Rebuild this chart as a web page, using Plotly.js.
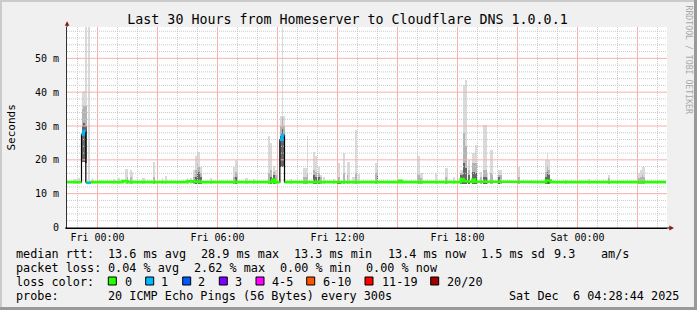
<!DOCTYPE html>
<html><head><meta charset="utf-8">
<script src="https://cdn.plot.ly/plotly-3.0.1.min.js"></script>
<style>html,body{margin:0;padding:0;background:#f0f0f0;}#chart{width:697px;height:310px;}</style>
</head><body><div id="chart"></div>
<script>
// ---------- data ----------
const chartTitle = 'Last 30 Hours from Homeserver to Cloudflare DNS 1.0.0.1';
const yTitle = 'Seconds';
const timeStart = '2025-12-04 22:28:30';
const timeEnd = '2025-12-06 04:28:30';
const xTickVals = ['2025-12-05 00:00','2025-12-05 03:00','2025-12-05 06:00','2025-12-05 09:00','2025-12-05 12:00','2025-12-05 15:00','2025-12-05 18:00','2025-12-05 21:00','2025-12-06 00:00','2025-12-06 03:00'];
const xTickText = ['Fri 00:00','','Fri 06:00','','Fri 12:00','','Fri 18:00','','Sat 00:00',''];
const yTickVals = [0,10,20,30,40,50];
const yTickText = ['0','10 m','20 m','30 m','40 m','50 m'];

// smoke (ms) per 5-minute probe round: lowest ping, highest ping, upper band, dense core
const smokeTimes = ['2025-12-04 22:50','2025-12-04 22:55','2025-12-04 23:05','2025-12-04 23:15','2025-12-04 23:20','2025-12-04 23:25','2025-12-04 23:35','2025-12-04 23:45',
 '2025-12-05 00:50','2025-12-05 01:05','2025-12-05 01:25','2025-12-05 01:30','2025-12-05 01:40','2025-12-05 01:45','2025-12-05 02:15','2025-12-05 02:20','2025-12-05 02:50','2025-12-05 03:15','2025-12-05 03:25',
 '2025-12-05 04:30','2025-12-05 04:40','2025-12-05 04:50','2025-12-05 04:55','2025-12-05 05:00','2025-12-05 05:05','2025-12-05 05:10','2025-12-05 05:40',
 '2025-12-05 06:50','2025-12-05 06:55','2025-12-05 07:00','2025-12-05 07:25','2025-12-05 07:30','2025-12-05 07:50','2025-12-05 08:35','2025-12-05 08:40','2025-12-05 08:50','2025-12-05 08:55',
 '2025-12-05 09:10','2025-12-05 09:15','2025-12-05 09:20','2025-12-05 09:40','2025-12-05 10:20','2025-12-05 10:25','2025-12-05 10:30','2025-12-05 10:50','2025-12-05 10:55','2025-12-05 11:05','2025-12-05 11:10','2025-12-05 11:20','2025-12-05 11:50',
 '2025-12-05 12:05','2025-12-05 12:20','2025-12-05 12:30','2025-12-05 12:35','2025-12-05 12:45','2025-12-05 12:50','2025-12-05 12:55','2025-12-05 13:05','2025-12-05 13:55','2025-12-05 14:00',
 '2025-12-05 16:00','2025-12-05 16:05','2025-12-05 16:10','2025-12-05 16:15','2025-12-05 16:55','2025-12-05 17:25','2025-12-05 17:30','2025-12-05 17:50',
 '2025-12-05 18:10','2025-12-05 18:15','2025-12-05 18:20','2025-12-05 18:25','2025-12-05 18:35','2025-12-05 18:45','2025-12-05 18:50','2025-12-05 18:55','2025-12-05 19:10','2025-12-05 19:20','2025-12-05 19:25','2025-12-05 19:30','2025-12-05 19:40','2025-12-05 19:45',
 '2025-12-05 20:05','2025-12-05 20:10','2025-12-05 21:05','2025-12-05 22:25','2025-12-05 22:30','2025-12-05 22:35','2025-12-05 23:25',
 '2025-12-06 00:35','2025-12-06 01:35','2025-12-06 03:05','2025-12-06 03:10','2025-12-06 03:15','2025-12-06 03:20'];
const smokeMin = [13,13,13,19.5,19.5,19,13,13,
 13,13,13,13,13,13,13,13,13,13,13,
 13,13,13,13,13,13,13,13,
 13,13,13,13,13,13,13,13,13,13,
 18,18,18,13,13,13,13,13,13,13,13,13,13,
 13,13,13,13,13,13,13,13,13,13,
 13,13,13,13,13,13,13,13,
 13,13,13,13,13,13,13,13,13,13,13,13,13,13,
 13,13,13,13,13,13,13,
 13,13,13,13,13,13];
const smokeMax = [14.3,14.3,14.6,40.0,40.4,75,75,14.5,
 14.2,14.5,17.3,17.3,17.0,16.5,14.7,14.7,19.5,14.6,15.3,
 14.5,14.6,17,21,22.6,22.4,18,14.5,
 18,20,19.5,14.5,14.5,14.3,26.9,25,18.2,17,
 33,75,33,14.2,17.5,17.5,26.9,22.4,21,18,15.5,15,14.2,
 19,22,19.5,19.5,15,15,28.8,15.7,19,20.2,
 22.2,21,16,16,16,17.5,17.5,14.8,
 17,17,42,43.5,20,22,22,24.4,16.5,30.3,30.3,16,22.9,23,
 17,17,18,20,22,20,14,
 14.3,15.6,16,17,18,18];
const smokeMid = [null,null,null,35,36,36,null,null,
 null,null,null,15,15,null,null,null,15,null,null,
 null,null,15,17,19,18,16,null,
 15,16.5,16,null,null,null,16,17,16.5,15.5,
 30,32.7,30,null,15,15,16,17,16.5,16,15,null,null,
 15,16,15.5,null,null,null,16,null,16,17,
 16,15.5,14.5,null,null,14.8,null,null,
 16,16,28,24,17,19,19,19,15,17,17,14.5,16,15.5,
 15.5,15.5,15,16.5,18,17,null,
 null,14.5,14.5,15,15.5,15];
const smokeCore = [null,null,null,30,31,30,null,null,
 null,null,null,null,null,null,null,null,null,null,null,
 null,null,null,15,16,16.5,15,null,
 null,15,null,null,null,null,null,15,15.5,null,
 27,29,27,null,null,null,null,15.5,15,15,null,null,null,
 null,null,null,null,null,null,null,null,null,15.5,
 null,null,null,null,null,null,null,null,
 15.5,15.5,19,17.5,15.5,16.5,16.5,16,null,15,15,null,null,null,
 15,null,null,15,16.5,15.5,null,
 null,null,null,null,null,null];

// median RTT (ms) as a step function, with lost pings (of 20) per step
const medianTimes = ['2025-12-04 22:25','2025-12-04 22:50','2025-12-04 23:00','2025-12-04 23:12','2025-12-04 23:18','2025-12-04 23:25','2025-12-04 23:28','2025-12-04 23:38',
 '2025-12-05 01:15','2025-12-05 01:30','2025-12-05 04:30','2025-12-05 04:45','2025-12-05 05:10','2025-12-05 08:45','2025-12-05 08:52','2025-12-05 09:07','2025-12-05 09:14','2025-12-05 09:21',
 '2025-12-05 12:00','2025-12-05 12:10','2025-12-05 15:05','2025-12-05 15:12','2025-12-05 17:45','2025-12-05 18:00','2025-12-05 18:10','2025-12-05 18:18','2025-12-05 18:30','2025-12-05 18:45','2025-12-05 18:52','2025-12-05 19:00',
 '2025-12-05 22:25','2025-12-05 22:40','2025-12-06 04:25'];
const medianValues = [13.4,13.6,13.4,27.5,28.5,13.4,13.2,13.4,
 13.7,13.4,13.7,13.5,13.4,14.2,13.4,25.9,27.3,13.4,
 13.2,13.4,13.8,13.4,13.6,13.4,14.3,13.7,13.5,14.2,13.6,13.4,
 13.9,13.4,13.4];
const medianLoss = [0,0,0,1,1,0,1,0,
 0,0,0,0,0,0,0,1,1,0,
 0,0,0,0,0,0,0,0,0,0,0,0,
 0,0,0];

const lossLabels = ['0','1','2','3','4-5','6-10','11-19','20/20'];
const lossColors = ['#26ff00','#00b8ff','#0059ff','#7e00ff','#ff00ff','#ff5500','#ff0000','#a10000'];
const legendRtt = ['median rtt:','13.6 ms avg','28.9 ms max','13.3 ms min','13.4 ms now','1.5 ms sd','9.3','am/s'];
const legendLoss = ['packet loss:','0.04 % avg','2.62 % max','0.00 % min','0.00 % now'];
const legendProbe = ['probe:','20 ICMP Echo Pings (56 Bytes) every 300s'];
const stampText = 'Sat Dec  6 04:28:44 2025';
const creditText = 'RRDTOOL / TOBI OETIKER';

// ---------- build ----------
const W = 697, H = 310, L = 67, R = 667, T = 27, B = 228;
const PX = x => (x - L) / (R - L);
const PY = y => (B - y) / (B - T);
const MONO = 'DejaVu Sans Mono';
const binMs = 5 * 60 * 1000;
const hourMs = 3600 * 1000;
const yRange = [-0.147, 59.26];
const majorGrid = '#f5b0b0';
const minorGrid = '#cacaca';

// grid lines (minor: every hour / 2 ms, major: tick positions), drawn under the data
const tStart = new Date(timeStart.replace(' ', 'T') + 'Z').getTime();
const tEnd = new Date(timeEnd.replace(' ', 'T') + 'Z').getTime();
const fmt = ms => new Date(ms).toISOString().slice(0, 19).replace('T', ' ');
function gridTrace(xs, ys, color, dash) {
  const gx = [], gy = [];
  xs.forEach(v => { gx.push(v, v, null); gy.push(yRange[0], yRange[1], null); });
  ys.forEach(v => { gx.push(timeStart, timeEnd, null); gy.push(v, v, null); });
  return {type: 'scatter', mode: 'lines', x: gx, y: gy, connectgaps: false, hoverinfo: 'skip',
    line: {color: color, width: 1, dash: dash}};
}
const minorX = [], minorY = [];
for (let t = Math.ceil(tStart / hourMs) * hourMs; t < tEnd; t += hourMs) if (xTickVals.indexOf(fmt(t).slice(0, 16)) < 0) minorX.push(fmt(t));
for (let v = 2; v < yRange[1]; v += 2) if (v % 10 !== 0) minorY.push(v);

function smokeTrace(vals, color) {
  return {type: 'bar', x: smokeTimes, y: vals.map((v, i) => v == null ? null : v - smokeMin[i]), base: smokeMin,
    width: binMs, marker: {color: color, line: {width: 0}}, hoverinfo: 'skip'};
}
function bucket(l) { if (l <= 3) return l; if (l <= 5) return 4; if (l <= 10) return 5; if (l <= 19) return 6; return 7; }

const traces = [
  gridTrace(minorX, minorY, minorGrid, '1px,1px'),
  gridTrace(xTickVals, yTickVals.slice(1), majorGrid, 'solid'),
  smokeTrace(smokeMax, '#dadada'),
  smokeTrace(smokeMid, '#b4b4b4'),
  smokeTrace(smokeCore, '#666666'),
  {type: 'scatter', mode: 'lines', x: medianTimes, y: medianValues, line: {shape: 'hv', color: '#000', width: 1.2}, hoverinfo: 'skip'}
];
for (let b = 0; b < lossColors.length; b++) {
  const xs = [], ys = [];
  for (let i = 0; i < medianTimes.length - 1; i++) {
    if (bucket(medianLoss[i]) !== b) continue;
    xs.push(medianTimes[i], medianTimes[i + 1]);
    ys.push(medianValues[i], medianValues[i]);
    const nextSame = i + 1 < medianTimes.length - 1 && bucket(medianLoss[i + 1]) === b;
    if (!nextSame) { xs.push(null); ys.push(null); }
  }
  if (xs.length) traces.push({type: 'scatter', mode: 'lines', x: xs, y: ys, connectgaps: false,
    line: {color: lossColors[b], width: 2.6}, hoverinfo: 'skip'});
}

const annotations = [];
function txt(text, x, y, opts) {
  annotations.push(Object.assign({text: text, xref: 'paper', yref: 'paper', x: PX(x), y: PY(y),
    xanchor: 'left', yanchor: 'middle', showarrow: false, font: {family: MONO, size: 11.8, color: '#000'}}, opts || {}));
}
const rttX = [15, 107, 200, 293, 386.5, 479.5, 552.5, 600];
legendRtt.forEach((t, i) => txt(t, rttX[i] - 0.7, 253.7));
const lossX = [15, 107, 193, 279, 365];
legendLoss.forEach((t, i) => txt(t, lossX[i] - 0.7, 267.7));
txt('loss color:', 14.3, 281.5);
const boxX = [108.3, 145.7, 182.7, 219.3, 256, 306.7, 365, 430.7];
const labX = [123.3, 159.3, 196.7, 233.3, 270.7, 321.7, 380.7, 445.7];
const shapes = [];
lossLabels.forEach((t, i) => {
  txt(t, labX[i] - 0.7, 281.5);
  shapes.push({type: 'rect', xref: 'paper', yref: 'paper', x0: PX(boxX[i]), x1: PX(boxX[i] + 8), y0: PY(285), y1: PY(277),
    fillcolor: lossColors[i], line: {color: '#000', width: 1}, layer: 'above'});
});
txt(legendProbe[0], 14.3, 296);
txt(legendProbe[1], 106.3, 296);
txt(stampText, 680.5, 296, {xanchor: 'right'});
txt(creditText, 688.5, 60, {textangle: 90, xanchor: 'center', font: {family: MONO, size: 8.2, color: '#a8a8a8'}});
txt(yTitle, 11, 127.5, {textangle: -90, xanchor: 'center', font: {family: MONO, size: 11, color: '#000'}});

// frame shading
shapes.push({type: 'rect', xref: 'paper', yref: 'paper', x0: PX(0), x1: PX(W), y0: PY(0), y1: PY(2), fillcolor: '#cbcbcb', line: {width: 0}, layer: 'above'});
shapes.push({type: 'rect', xref: 'paper', yref: 'paper', x0: PX(0), x1: PX(2), y0: PY(0), y1: PY(H), fillcolor: '#cbcbcb', line: {width: 0}, layer: 'above'});
shapes.push({type: 'rect', xref: 'paper', yref: 'paper', x0: PX(0), x1: PX(W), y0: PY(H - 3), y1: PY(H), fillcolor: '#999999', line: {width: 0}, layer: 'above'});
shapes.push({type: 'rect', xref: 'paper', yref: 'paper', x0: PX(W - 3), x1: PX(W), y0: PY(0), y1: PY(H), fillcolor: '#999999', line: {width: 0}, layer: 'above'});
// axis extensions and arrows
shapes.push({type: 'line', xref: 'paper', yref: 'paper', x0: 0, x1: 0, y0: 1, y1: PY(23), line: {color: '#333', width: 1}, layer: 'above'});
shapes.push({type: 'line', xref: 'paper', yref: 'paper', x0: PX(65), x1: PX(670), y0: 0, y1: 0, line: {color: '#000', width: 1}, layer: 'above'});
shapes.push({type: 'path', xref: 'paper', yref: 'paper', path: `M${PX(64.8)},${PY(25.8)} L${PX(69.4)},${PY(25.8)} L${PX(67.1)},${PY(21.3)} Z`, fillcolor: '#8c1a1a', line: {width: 0}, layer: 'above'});
shapes.push({type: 'path', xref: 'paper', yref: 'paper', path: `M${PX(669.3)},${PY(225.6)} L${PX(669.3)},${PY(230.4)} L${PX(674)},${PY(228)} Z`, fillcolor: '#8c1a1a', line: {width: 0}, layer: 'above'});

const tickFont = {family: MONO, size: 10, color: '#000'};
const layout = {
  width: W, height: H, autosize: false,
  margin: {l: L, r: W - R, t: T, b: H - B, pad: 0},
  paper_bgcolor: '#f0f0f0', plot_bgcolor: '#ffffff',
  font: {family: MONO, size: 10, color: '#000'},
  showlegend: false, barmode: 'overlay', bargap: 0,
  title: {text: chartTitle, x: 347.5 / W, xref: 'container', xanchor: 'center', y: 1 - 19 / H, yref: 'container', yanchor: 'middle',
    font: {family: MONO, size: 13.3, color: '#000'}},
  xaxis: {type: 'date', range: [timeStart, timeEnd], tickmode: 'array', tickvals: xTickVals, ticktext: xTickText,
    showgrid: false, ticks: '', showline: true, linecolor: '#000', linewidth: 1, zeroline: false, fixedrange: true, tickfont: tickFont},
  yaxis: {range: yRange, tickmode: 'array', tickvals: yTickVals, ticktext: yTickText,
    showgrid: false, ticks: '', showline: true, linecolor: '#333', linewidth: 1, zeroline: false, fixedrange: true,
    ticklabelstandoff: 5, tickfont: tickFont},
  annotations: annotations, shapes: shapes
};
Plotly.newPlot('chart', traces, layout, {displayModeBar: false, staticPlot: true});
</script>
</body></html>
